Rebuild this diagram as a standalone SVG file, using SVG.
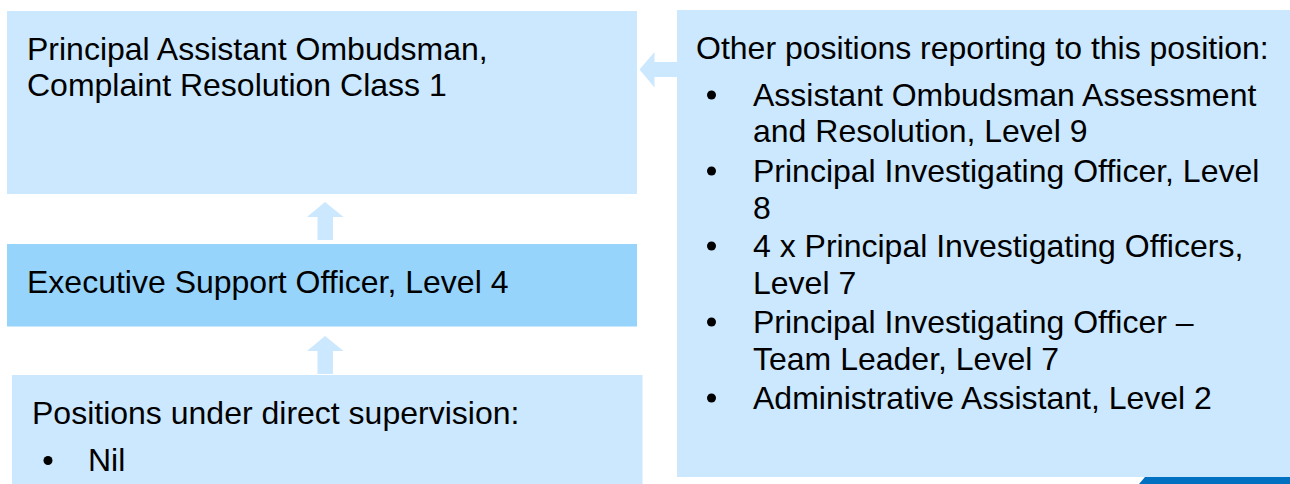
<svg xmlns="http://www.w3.org/2000/svg" width="1290" height="484" viewBox="0 0 1290 484">
  <style>
    .box { fill: #CCE8FE; }
    .box-mid { fill: #97D4FC; }
    .arrow { fill: #CCE8FE; }
    .label { font-family: "Liberation Sans", Arial, sans-serif; font-size: 32px; fill: #000000; }
    .bullet { fill: #000000; }
  </style>
  <rect width="1290" height="484" fill="#FFFFFF"/>

  <!-- connectors -->
  <g id="connectors">
    <!-- Executive Support Officer up to Principal Assistant Ombudsman -->
    <polygon class="arrow" points="325,202 343.5,217 333,217 333,240 317.5,240 317.5,217 307,217"/>
    <!-- direct supervision up to Executive Support Officer -->
    <polygon class="arrow" points="325,336 343.5,351 333,351 333,374 317.5,374 317.5,351 307,351"/>
    <!-- other positions across to Principal Assistant Ombudsman -->
    <polygon class="arrow" points="639.5,69.5 654.5,52 654.5,62 678,62 678,77 654.5,77 654.5,87.5"/>
  </g>

  <g id="node-principal">
    <rect class="box" x="7" y="11" width="630" height="183"/>
    <text class="label" x="27" y="59.5">Principal Assistant Ombudsman,</text>
    <text class="label" x="27" y="96">Complaint Resolution Class 1</text>
  </g>

  <g id="node-executive">
    <rect class="box-mid" x="7" y="244" width="630" height="82.5"/>
    <text class="label" x="27" y="293">Executive Support Officer, Level 4</text>
  </g>

  <g id="node-supervision">
    <rect class="box" x="12" y="375" width="630.5" height="109"/>
    <text class="label" x="32" y="424">Positions under direct supervision:</text>
    <circle class="bullet" cx="48" cy="460.5" r="4.5"/>
    <text class="label" x="88" y="471">Nil</text>
  </g>

  <g id="node-other">
    <rect class="box" x="677" y="10" width="613" height="467"/>
    <text class="label" x="696" y="58.5">Other positions reporting to this position:</text>
    <circle class="bullet" cx="711.5" cy="95" r="4.5"/>
    <text class="label" x="753" y="105.5">Assistant Ombudsman Assessment</text>
    <text class="label" x="753" y="142">and Resolution, Level 9</text>
    <circle class="bullet" cx="711.5" cy="171" r="4.5"/>
    <text class="label" x="753" y="181.5">Principal Investigating Officer, Level</text>
    <text class="label" x="753" y="218.5">8</text>
    <circle class="bullet" cx="711.5" cy="246" r="4.5"/>
    <text class="label" x="753" y="256.5">4 x Principal Investigating Officers,</text>
    <text class="label" x="753" y="294">Level 7</text>
    <circle class="bullet" cx="711.5" cy="322" r="4.5"/>
    <text class="label" x="753" y="332.5">Principal Investigating Officer –</text>
    <text class="label" x="753" y="369.5">Team Leader, Level 7</text>
    <circle class="bullet" cx="711.5" cy="398" r="4.5"/>
    <text class="label" x="753" y="408.5">Administrative Assistant, Level 2</text>
  </g>

  <!-- page footer band -->
  <polygon points="1145,477 1290,477 1290,484 1139,484" fill="#0070C0"/>
</svg>
